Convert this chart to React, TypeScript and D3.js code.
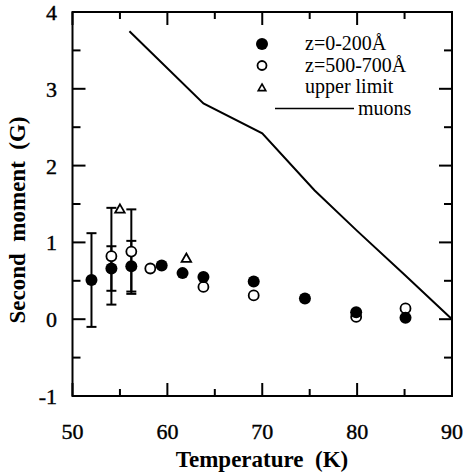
import React from "react";
import * as d3 from "d3";

const xTicks = [50, 60, 70, 80, 90];
const yTicks = [-1, 0, 1, 2, 3, 4];

// z=0-200Å (filled)
const filledT = [52.0, 54.1, 56.2, 59.4, 61.6, 63.8, 69.1, 74.5, 79.9, 85.1];
const filledV = [0.51, 0.66, 0.69, 0.70, 0.60, 0.55, 0.49, 0.27, 0.09, 0.02];
const filledErr = [0.61, 0.29, 0.33, 0, 0, 0, 0, 0, 0, 0];

// z=500-700Å (open)
const openT = [54.1, 56.2, 58.2, 63.8, 69.1, 79.9, 85.1];
const openV = [0.82, 0.88, 0.66, 0.42, 0.31, 0.03, 0.14];
const openErr = [0.63, 0.55, 0, 0, 0, 0, 0];

// upper limit (triangles)
const upperT = [55.0, 62.0];
const upperV = [1.43, 0.79];

// muons line
const muonT = [56.0, 63.8, 70.0, 75.5, 80.0, 85.0, 90.0];
const muonV = [3.75, 2.81, 2.42, 1.68, 1.15, 0.58, 0.0];

const legendLabels = ["z=0-200Å", "z=500-700Å", "upper limit", "muons"];

export default function App() {
  const W = 464, H = 473;
  const x = d3.scaleLinear().domain([50, 90]).range([72.5, 452]);
  const y = d3.scaleLinear().domain([-1, 4]).range([396, 12]);
  const font = "'Liberation Serif', 'DejaVu Serif', serif";
  const line = d3.line<number>().x((_, i) => x(muonT[i])).y((d) => y(d));

  const xMinor = d3.range(50, 90.1, 5);
  const yMinor = d3.range(-1, 4.01, 0.5);
  const isMajorX = (v: number) => Math.abs(v % 10) < 1e-6;
  const isMajorY = (v: number) => Math.abs(v - Math.round(v)) < 1e-6;

  const [x0, x1] = x.range();
  const [y0, y1] = y.range();

  const tri = (cx: number, cy: number, s: number) =>
    `M${cx},${cy - s} L${cx + s * 0.95},${cy + s * 0.65} L${cx - s * 0.95},${cy + s * 0.65} Z`;

  const errBar = (t: number, v: number, e: number, key: string) => {
    if (!e) return null;
    const cx = x(t);
    return (
      <g key={key} stroke="#000" strokeWidth={2}>
        <line x1={cx} x2={cx} y1={y(v + e)} y2={y(v - e)} />
        <line x1={cx - 5} x2={cx + 5} y1={y(v + e)} y2={y(v + e)} />
        <line x1={cx - 5} x2={cx + 5} y1={y(v - e)} y2={y(v - e)} />
      </g>
    );
  };

  const lgBase = 50;
  const lgStep = 21.5;

  return (
    <svg width={W} height={H} style={{ display: "block", position: "absolute", left: 0, top: 0 }}>
      <rect width={W} height={H} fill="#fff" />
      {/* frame */}
      <rect x={x0} y={y1} width={x1 - x0} height={y0 - y1} fill="none" stroke="#000" strokeWidth={2} />
      {/* ticks */}
      {xMinor.map((v) => {
        const len = isMajorX(v) ? 13 : 7;
        return (
          <g key={"xt" + v} stroke="#000" strokeWidth={2}>
            <line x1={x(v)} x2={x(v)} y1={y0} y2={y0 - len} />
            <line x1={x(v)} x2={x(v)} y1={y1} y2={y1 + len} />
          </g>
        );
      })}
      {yMinor.map((v) => {
        const len = isMajorY(v) ? 13 : 8;
        return (
          <g key={"yt" + v} stroke="#000" strokeWidth={2}>
            <line x1={x0} x2={x0 + len} y1={y(v)} y2={y(v)} />
            <line x1={x1} x2={x1 - len} y1={y(v)} y2={y(v)} />
          </g>
        );
      })}
      {/* tick labels */}
      {xTicks.map((v) => (
        <text key={"xl" + v} x={x(v)} y={439} textAnchor="middle" fontFamily={font} fontSize={22} fill="#000" stroke="#000" strokeWidth={0.4}>
          {v}
        </text>
      ))}
      {yTicks.map((v) => (
        <text key={"yl" + v} x={57} y={y(v) + 8} textAnchor="end" fontFamily={font} fontSize={22} fill="#000" stroke="#000" strokeWidth={0.4}>
          {v}
        </text>
      ))}
      {/* axis titles */}
      <text x={262} y={467} textAnchor="middle" fontFamily={font} fontSize={23} fontWeight="bold" style={{ whiteSpace: "pre" }}>
        {"Temperature  (K)"}
      </text>
      <text
        transform={`translate(25,220) rotate(-90)`}
        textAnchor="middle"
        fontFamily={font}
        fontSize={23}
        fontWeight="bold"
        style={{ whiteSpace: "pre" }}
      >
        {"Second  moment  (G)"}
      </text>
      {/* muons line */}
      <path d={line(muonV) || ""} fill="none" stroke="#000" strokeWidth={2} />
      {/* error bars */}
      {filledT.map((t, i) => errBar(t, filledV[i], filledErr[i], "fe" + i))}
      {openT.map((t, i) => errBar(t, openV[i], openErr[i], "oe" + i))}
      {/* open points */}
      {openT.map((t, i) => (
        <circle key={"o" + i} cx={x(t)} cy={y(openV[i])} r={5} fill="#fff" stroke="#000" strokeWidth={1.8} />
      ))}
      {/* filled points */}
      {filledT.map((t, i) => (
        <circle key={"f" + i} cx={x(t)} cy={y(filledV[i])} r={6} fill="#000" />
      ))}
      {/* upper limits */}
      {upperT.map((t, i) => (
        <path key={"u" + i} d={tri(x(t), y(upperV[i]), 5)} fill="#fff" stroke="#000" strokeWidth={1.8} />
      ))}
      {/* legend */}
      <circle cx={262} cy={lgBase - 6} r={6} fill="#000" />
      <circle cx={262} cy={lgBase + lgStep - 6} r={4.5} fill="#fff" stroke="#000" strokeWidth={1.8} />
      <path d={tri(262, lgBase + 2 * lgStep - 5, 4)} fill="#fff" stroke="#000" strokeWidth={1.6} />
      <line x1={275} x2={354} y1={lgBase + 3 * lgStep - 6} y2={lgBase + 3 * lgStep - 6} stroke="#000" strokeWidth={1.5} />
      {legendLabels.map((s, i) => (
        <text
          key={"lg" + i}
          x={i === 3 ? 358 : 305}
          y={lgBase + i * lgStep}
          fontFamily={font}
          fontSize={20}
          fill="#000"
        >
          {s}
        </text>
      ))}
    </svg>
  );
}
